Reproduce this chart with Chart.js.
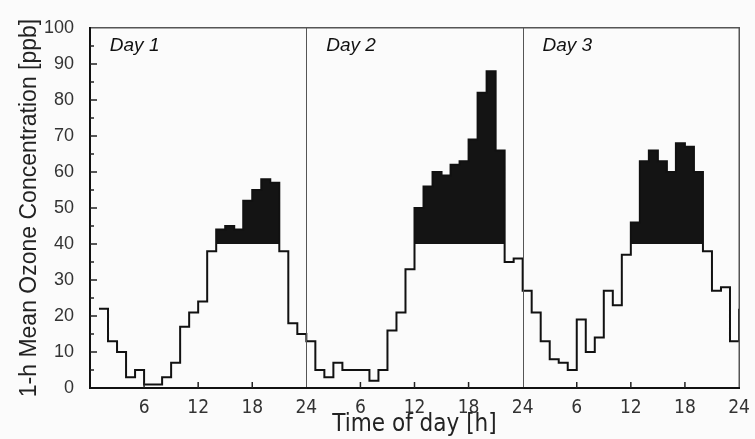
<!DOCTYPE html>
<html>
<head>
<meta charset="utf-8">
<script src="https://cdn.jsdelivr.net/npm/chart.js@4"></script>
<style>
  html, body { margin: 0; padding: 0; background: #fbfbfb; }
  #wrap { width: 755px; height: 439px; }
</style>
</head>
<body>
<div id="wrap"><canvas id="ozoneChart" width="755" height="439"></canvas></div>
<script>
// ---- data (ppb, one value per hour) ----
// day 1 starts at hour 1, days 2 and 3 start at hour 0
const day1 = [22, 13, 10, 3, 5, 1, 1, 3, 7, 17, 21, 24, 38, 44, 45, 44, 52, 55, 58, 57, 38, 18, 15];
const day2 = [13, 5, 3, 7, 5, 5, 5, 2, 5, 16, 21, 33, 50, 56, 60, 59, 62, 63, 69, 82, 88, 66, 35, 36];
const day3 = [27, 21, 13, 8, 7, 5, 19, 10, 14, 27, 23, 37, 46, 63, 66, 63, 60, 68, 67, 60, 38, 27, 28, 13];
const lastValue = 22;  // short rise at the very end (hour 72)

const threshold = 40;
const dayLabels = ['Day 1', 'Day 2', 'Day 3'];
const xTickLabels = ['', '6', '12', '18', '24', '6', '12', '18', '24', '6', '12', '18', '24'];
const yTickLabels = ['0', '10', '20', '30', '40', '50', '60', '70', '80', '90', '100'];

// build {x,y} points: value at hour h holds for [h, h+1]
const points = [];
day1.forEach((v, i) => points.push({ x: 1 + i, y: v }));
day2.forEach((v, i) => points.push({ x: 24 + i, y: v }));
day3.forEach((v, i) => points.push({ x: 48 + i, y: v }));
points.push({ x: 72, y: lastValue });

// ---- frame, inner ticks, day separators, day labels ----
const decorPlugin = {
    id: 'decor',
    afterDraw(chart) {
        const c = chart.ctx;
        const a = chart.chartArea;
        const xs = chart.scales.x;
        const ys = chart.scales.y;
        const L = Math.round(a.left), T = Math.round(a.top);
        const R = Math.round(a.right), B = Math.round(a.bottom);
        c.save();

        // day separators
        c.fillStyle = '#555';
        [24, 48].forEach(h => {
            const px = Math.round(xs.getPixelForValue(h));
            c.fillRect(px, T, 1, B - T);
        });

        // frame: thin top/right, heavier left/bottom
        c.fillStyle = '#555';
        c.fillRect(L, T - 1, R - L + 1, 1.5);
        c.fillRect(R - 0.5, T - 1, 1.5, B - T + 1);
        c.fillStyle = '#111';
        c.fillRect(L - 1, T - 1, 2, B - T + 2);
        c.fillRect(L - 1, B - 1, R - L + 2, 2);

        // inner ticks on y axis (major every 10, minor every 5)
        c.fillStyle = '#222';
        for (let v = 5; v < 100; v += 5) {
            const py = ys.getPixelForValue(v);
            const len = v % 10 === 0 ? 7 : 4;
            c.fillRect(L, py - 0.75, len, 1.5);
        }
        // inner ticks on x axis
        for (let h = 6; h < 72; h += 6) {
            if (h % 24 === 0) continue;
            const px = xs.getPixelForValue(h);
            c.fillRect(px - 0.75, B - 6, 1.5, 6);
        }

        // day labels
        c.fillStyle = '#111';
        c.font = 'italic 19px "Liberation Sans", Arial, sans-serif';
        c.textBaseline = 'alphabetic';
        dayLabels.forEach((t, i) => {
            c.fillText(t, xs.getPixelForValue(i * 24 + 2.2), ys.getPixelForValue(93.7));
        });
        c.restore();
    }
};

const ozoneChart = new Chart(document.getElementById('ozoneChart'), {
    type: 'line',
    data: {
        datasets: [{
            label: 'O3',
            data: points,
            borderColor: '#111',
            borderWidth: 2,
            pointRadius: 0,
            stepped: 'before',
            tension: 0,
            fill: { target: { value: threshold }, above: '#141414', below: 'rgba(0,0,0,0)' }
        }]
    },
    options: {
        responsive: false,
        animation: false,
        layout: { padding: { top: 28, right: 16, left: 0, bottom: 0 } },
        plugins: { legend: { display: false }, tooltip: { enabled: false } },
        scales: {
            x: {
                type: 'linear',
                min: 0,
                max: 72,
                afterFit: s => { s.height = 51; },
                afterBuildTicks: s => { s.ticks = xTickLabels.map((_, i) => ({ value: i * 6 })); },
                grid: { display: false },
                border: { display: false },
                ticks: {
                    autoSkip: false,
                    maxRotation: 0,
                    padding: 1,
                    color: '#333',
                    font: { family: '"DejaVu Sans Condensed", "Liberation Sans Narrow", sans-serif', size: 19 },
                    callback: (v, i) => xTickLabels[i]
                },
                title: {
                    display: true,
                    text: 'Time of day [h]',
                    color: '#222',
                    font: { family: '"DejaVu Sans Condensed", "Liberation Sans", sans-serif', size: 24 },
                    padding: { top: 0, bottom: 0 }
                }
            },
            y: {
                min: 0,
                max: 100,
                afterFit: s => { s.width = 90; },
                afterBuildTicks: s => { s.ticks = yTickLabels.map((_, i) => ({ value: i * 10 })); },
                grid: { display: false },
                border: { display: false },
                ticks: {
                    padding: 8,
                    color: '#333',
                    font: { family: '"Liberation Sans", Arial, sans-serif', size: 18 },
                    callback: (v, i) => yTickLabels[i]
                },
                title: {
                    display: true,
                    text: '1-h Mean Ozone Concentration [ppb]',
                    color: '#222',
                    font: { family: '"Liberation Sans", Arial, sans-serif', size: 23 },
                    padding: { top: 16, bottom: 0 }
                }
            }
        }
    },
    plugins: [decorPlugin]
});
</script>
</body>
</html>
